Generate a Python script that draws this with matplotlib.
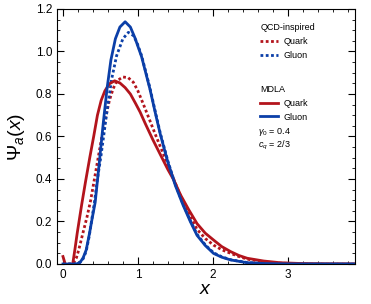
import numpy as np
import matplotlib
matplotlib.use("Agg")
import matplotlib.pyplot as plt
from matplotlib.ticker import MultipleLocator

plt.rcParams['font.family'] = ['Liberation Sans', 'DejaVu Sans']
plt.rcParams['mathtext.fontset'] = 'custom'
plt.rcParams['mathtext.rm'] = 'Liberation Sans'
plt.rcParams['mathtext.it'] = 'Liberation Sans:italic'

# MDLA quark (solid red)
mdla_quark_x = [0, 0.03, 0.06, 0.10, 0.13, 0.16, 0.19, 0.25, 0.30, 0.36, 0.41, 0.46, 0.51,
                0.56, 0.62, 0.69, 0.76, 0.83, 0.90, 0.97, 1.03, 1.10, 1.20, 1.30, 1.40, 1.48,
                1.57, 1.68, 1.79, 1.90, 2.01, 2.12, 2.24, 2.35, 2.46, 2.68, 2.90, 3.2, 3.5, 3.9]
mdla_quark_y = [0.035, 0.0, -0.02, -0.02, 0.0, 0.07, 0.145, 0.28, 0.385, 0.505, 0.60, 0.70, 0.77,
                0.815, 0.848, 0.862, 0.852, 0.83, 0.80, 0.755, 0.715, 0.66, 0.585, 0.515, 0.445, 0.395,
                0.325, 0.255, 0.19, 0.145, 0.113, 0.082, 0.058, 0.04, 0.027, 0.014, 0.006, 0.002, 0.0005, 0.0]

# QCD-inspired quark (dotted red)
qcd_quark_x = [0, 0.10, 0.14, 0.18, 0.21, 0.265, 0.32, 0.37, 0.42, 0.47, 0.52, 0.57, 0.62, 0.67,
               0.72, 0.80, 0.87, 0.94, 1.0, 1.07, 1.16, 1.25, 1.35, 1.45, 1.54, 1.66, 1.79, 1.90,
               2.01, 2.12, 2.24, 2.35, 2.46, 2.68, 2.90, 3.2, 3.5, 3.9]
qcd_quark_y = [0, 0, 0.005, 0.03, 0.066, 0.144, 0.22, 0.30, 0.40, 0.50, 0.60, 0.69, 0.77, 0.825,
               0.862, 0.88, 0.877, 0.855, 0.815, 0.755, 0.675, 0.595, 0.51, 0.425, 0.345, 0.25, 0.163, 0.12,
               0.089, 0.067, 0.05, 0.035, 0.023, 0.01, 0.004, 0.001, 0.0003, 0]

# MDLA gluon (solid blue)
mdla_gluon_x = [0, 0.10, 0.18, 0.23, 0.27, 0.31, 0.354, 0.39, 0.43, 0.48, 0.54, 0.59, 0.64, 0.70,
                0.76, 0.83, 0.90, 0.96, 1.05, 1.16, 1.25, 1.30, 1.40, 1.50, 1.60, 1.70, 1.79, 1.90,
                2.01, 2.12, 2.24, 2.46, 2.70, 3.0, 3.5, 3.9]
mdla_gluon_y = [0, 0, 0.0, 0.008, 0.03, 0.066, 0.144, 0.215, 0.29, 0.46, 0.67, 0.83, 0.96, 1.06,
                1.115, 1.14, 1.115, 1.065, 0.975, 0.825, 0.685, 0.61, 0.48, 0.37, 0.28, 0.20, 0.135, 0.087,
                0.05, 0.032, 0.019, 0.006, 0.002, 0.0005, 0, 0]

# QCD-inspired gluon (dotted blue)
qcd_gluon_x = [0, 0.15, 0.22, 0.27, 0.31, 0.35, 0.42, 0.46, 0.506, 0.55, 0.59, 0.65, 0.716, 0.80,
               0.873, 0.94, 0.985, 1.05, 1.16, 1.25, 1.30, 1.40, 1.50, 1.60, 1.70, 1.79, 1.90, 2.01,
               2.12, 2.24, 2.46, 2.70, 3.0, 3.5, 3.9]
qcd_gluon_y = [0, 0, 0.005, 0.025, 0.06, 0.13, 0.29, 0.40, 0.505, 0.62, 0.725, 0.87, 0.98, 1.06,
               1.09, 1.075, 1.045, 0.98, 0.83, 0.69, 0.615, 0.485, 0.375, 0.285, 0.205, 0.14, 0.09, 0.053,
               0.034, 0.02, 0.007, 0.002, 0.0005, 0, 0]

red = '#b3141c'
blue = '#0b3fa8'
dots = (0, (1, 0.9))

fig = plt.figure(figsize=(3.71, 3.04), dpi=100)
ax = fig.add_axes([0.1536, 0.1316, 0.8034, 0.8388])

l1, = ax.plot(qcd_quark_x, qcd_quark_y, color=red, lw=2.0, ls=dots)
l2, = ax.plot(qcd_gluon_x, qcd_gluon_y, color=blue, lw=2.0, ls=dots)
l3, = ax.plot(mdla_quark_x, mdla_quark_y, color=red, lw=2.0)
l4, = ax.plot(mdla_gluon_x, mdla_gluon_y, color=blue, lw=2.0)

ax.set_xlim(-0.08, 3.9)
ax.set_ylim(0, 1.2)
ax.xaxis.set_major_locator(MultipleLocator(1))
ax.xaxis.set_minor_locator(MultipleLocator(0.2))
ax.yaxis.set_major_locator(MultipleLocator(0.2))
ax.yaxis.set_minor_locator(MultipleLocator(0.05))
ax.yaxis.set_major_formatter(plt.FormatStrFormatter('%.1f'))
ax.tick_params(which='both', direction='in', top=True, right=True, labelsize=8.5)
ax.tick_params(which='major', length=5, width=0.8)
ax.tick_params(which='minor', length=2.5, width=0.6)

ax.set_xlabel(r'$x$', fontsize=14, labelpad=0)
ax.set_ylabel(r'$\Psi_a(x)$', fontsize=14, labelpad=6)

leg1 = ax.legend([l1, l2], ['Quark', 'Gluon'], title='QCD-inspired', loc='upper left',
                 bbox_to_anchor=(0.655, 0.975), frameon=False, fontsize=6.5, title_fontsize=6.5,
                 handlelength=2.0, handletextpad=0.6, labelspacing=0.55, alignment='left')
ax.add_artist(leg1)
leg2 = ax.legend([l3, l4], ['Quark', 'Gluon'], title='MDLA', loc='upper left',
                 bbox_to_anchor=(0.655, 0.735), frameon=False, fontsize=6.5, title_fontsize=6.5,
                 handlelength=2.0, handletextpad=0.6, labelspacing=0.55, alignment='left')

ax.text(0.674, 0.519, r'$\gamma_0$ = 0.4', transform=ax.transAxes, fontsize=6.5, va='center')
ax.text(0.674, 0.464, r'$c_q$ = 2/3', transform=ax.transAxes, fontsize=6.5, va='center')

fig.savefig('out.png', dpi=100)
